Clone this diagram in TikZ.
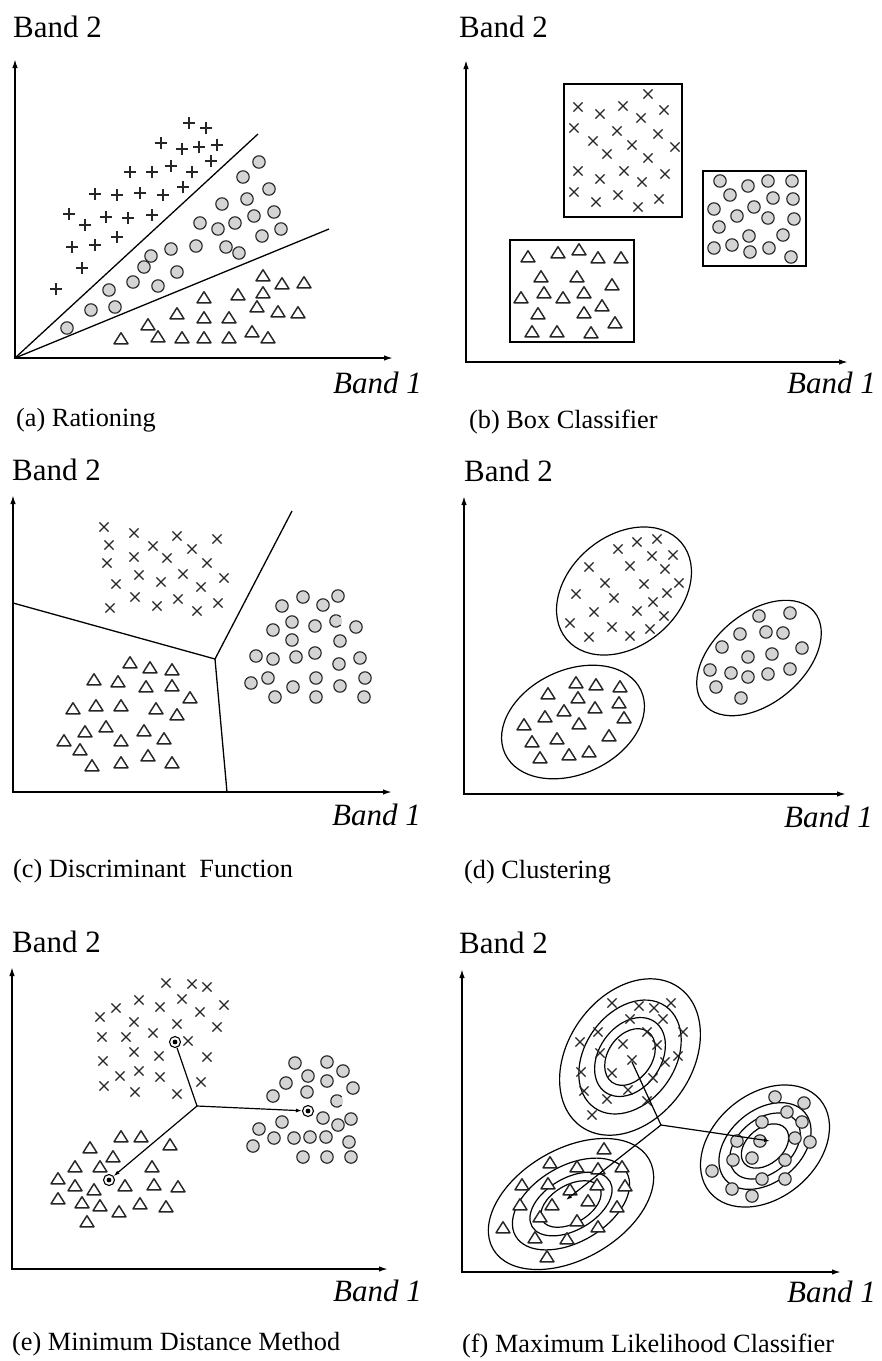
\documentclass[tikz,border=0pt]{standalone}
\usepackage{fontspec}
\setmainfont{Liberation Serif}
\usetikzlibrary{arrows.meta}
\begin{document}
\begin{tikzpicture}[x=1pt,y=-1pt,
  axis/.style={line width=1.6pt,{Latex[length=9pt,width=5.5pt]}-{Latex[length=9pt,width=5.5pt]}},
  conn/.style={line width=1.2pt},
  arr/.style={line width=1.2pt,-{Latex[length=6pt,width=4pt]}},
  bnd/.style={line width=1.3pt},
  ell/.style={line width=1.2pt},
  boxline/.style={line width=1.5pt},
  lbl/.style={font=\fontsize{31}{35}\selectfont, inner sep=0pt, anchor=base west},
  lblr/.style={font=\fontsize{31}{35}\selectfont\itshape, inner sep=0pt, anchor=base east},
  captxt/.style={font=\fontsize{26.3}{30}\selectfont, inner sep=0pt, anchor=base west},
  mk/.style={line width=1.15pt, black!85},
  ctr/.style={circle, draw, line width=1.1pt, minimum size=11pt, inner sep=0pt, fill=white},
  dot/.style={fill=black},
  pics/xm/.style={code={\draw[mk] (-4.6pt,-4.6pt)--(4.6pt,4.6pt) (-4.6pt,4.6pt)--(4.6pt,-4.6pt);}},
  pics/pm/.style={code={\draw[mk] (-6pt,0pt)--(6pt,0pt) (0pt,-6pt)--(0pt,6pt);}},
  pics/om/.style={code={\draw[mk, fill=black!17] (0,0) circle (6.2pt);}},
  pics/cm/.style={code={\fill[black!17] (0,0) circle (6.2pt); \draw[mk] (40:6.2pt) arc (40:320:6.2pt);}},
  pics/tm/.style={code={\draw[mk, line width=1.45pt, fill=white, line join=round] (-7pt,-4.8pt)--(7pt,-4.8pt)--(0pt,6.3pt)--cycle;}},
]
\useasboundingbox[fill=white] (0,0) rectangle (882,1361);

% ================= (a) Rationing =================
\coordinate (aO) at (15,358); \coordinate (aY) at (15,59); \coordinate (aX) at (393,358);
\draw[axis] (aY) -- (aO) -- (aX);
\coordinate (aL1) at (258,134); \coordinate (aL2) at (329,229);
\draw[bnd] (aO) -- (aL1);
\draw[bnd] (aO) -- (aL2);
\foreach \x/\y in {189/123, 206/128, 161/143, 182/149, 199/147, 217/145, 211/161, 130/172, 152/172, 171/166, 192/172, 183/187, 95/194, 117/195, 140/193, 163/195, 69/214, 85/225, 106/217, 128/218, 152/215, 117/237, 72/247, 95/245, 82/268, 56/289}
  \pic at (\x,\y) {pm};
\foreach \x/\y in {259/162, 243/177, 269/189, 247/199, 222/204, 274/212, 254/216, 200/223, 235/223, 218/229, 281/229, 262/236, 196/246, 226/247, 239/253, 171/249, 151/256, 144/267, 177/272, 133/282, 158/286, 109/290, 115/307, 91/310, 67/328}
  \pic at (\x,\y) {om};
\foreach \x/\y in {263/276, 282/284, 304/283, 204/298, 238/295, 263/293, 257/307, 278/312, 298/313, 177/314, 204/318, 229/318, 148/325, 121/339, 158/337, 182/338, 204/338, 229/338, 252/332, 268/338}
  \pic at (\x,\y) {tm};
\node[lbl] (aB2) at (13,37) {Band 2};
\node[lblr] (aB1) at (422,393) {Band 1};
\node[captxt] (aC) at (16,426) {(a) Rationing};

% ================= (b) Box Classifier =================
\coordinate (bO) at (466,362); \coordinate (bY) at (466,60); \coordinate (bX) at (848,362);
\draw[axis] (bY) -- (bO) -- (bX);
\draw[boxline] (564,84) rectangle (682,217);
\draw[boxline] (703,171) rectangle (806,266);
\draw[boxline] (510,240) rectangle (634,342);
\foreach \x/\y in {648/94, 578/107, 600/114, 623/106, 664/110, 641/118, 574/128, 617/131, 658/134, 593/141, 632/145, 675/147, 607/154, 648/158, 578/171, 624/171, 600/179, 665/174, 642/182, 574/192, 618/195, 596/202, 638/207, 659/199}
  \pic at (\x,\y) {xm};
\foreach \x/\y in {720/181, 748/186, 768/181, 792/181, 730/195, 773/198, 793/199, 714/209, 754/207, 737/216, 768/218, 794/219, 719/227, 749/236, 783/235, 714/248, 732/245, 750/252, 769/248, 791/257}
  \pic at (\x,\y) {om};
\foreach \x/\y in {528/257, 558/253, 579/250, 598/258, 621/258, 541/277, 577/277, 612/285, 521/298, 544/293, 563/298, 584/293, 602/306, 538/314, 584/313, 615/323, 532/332, 557/332, 591/333}
  \pic at (\x,\y) {tm};
\node[lbl] (bB2) at (459,37) {Band 2};
\node[lblr] (bB1) at (876,393) {Band 1};
\node[captxt] (bC) at (469,428) {(b) Box Classifier};

% ================= (c) Discriminant Function =================
\coordinate (cO) at (13,792); \coordinate (cY) at (13,495); \coordinate (cX) at (392,792);
\draw[axis] (cY) -- (cO) -- (cX);
\coordinate (cL) at (13,603); \coordinate (cJ) at (215,659); \coordinate (cT) at (292,511); \coordinate (cB) at (227,792);
\draw[bnd] (cL) -- (cJ) -- (cT);
\draw[bnd] (cJ) -- (cB);
\foreach \x/\y in {104/527, 134/533, 177/536, 217/539, 109/545, 153/546, 192/549, 107/563, 134/557, 167/558, 207/563, 116/584, 139/575, 161/582, 183/574, 201/587, 224/578, 110/608, 135/597, 157/606, 178/599, 197/611, 218/603}
  \pic at (\x,\y) {xm};
\foreach \x/\y in {303/597, 338/596, 282/606, 323/605, 292/622, 315/626, 356/627, 273/630, 292/640, 340/641, 256/656, 273/659, 296/657, 315/653, 339/664, 360/658, 251/683, 268/678, 293/687, 316/678, 340/686, 365/678, 275/697, 316/697, 364/697}
  \pic at (\x,\y) {om};
\pic at (336,621) {cm};
\foreach \x/\y in {130/663, 150/668, 172/670, 94/680, 118/682, 146/687, 172/686, 190/698, 73/709, 96/706, 121/706, 156/709, 177/715, 85/732, 106/727, 144/731, 64/741, 121/741, 164/739, 80/750, 148/756, 92/766, 121/763, 172/763}
  \pic at (\x,\y) {tm};
\node[lbl] (cB2) at (12,480) {Band 2};
\node[lblr] (cB1) at (421,825) {Band 1};
\node[captxt] (cC) at (13,877) {(c) Discriminant\ \ Function};

% ================= (d) Clustering =================
\coordinate (dO) at (464,794); \coordinate (dY) at (464,496); \coordinate (dX) at (846,794);
\draw[axis] (dY) -- (dO) -- (dX);
\coordinate (dXc) at (624,591); \coordinate (dTc) at (573,722); \coordinate (dOc) at (759,658);
\draw[ell, rotate around={40:(dXc)}] (dXc) ellipse [x radius=75pt, y radius=55pt];
\draw[ell, rotate around={25:(dTc)}] (dTc) ellipse [x radius=75pt, y radius=52pt];
\draw[ell, rotate around={40:(dOc)}] (dOc) ellipse [x radius=72pt, y radius=45pt];
\foreach \x/\y in {618/549, 637/542, 657/539, 652/556, 673/555, 589/567, 630/566, 665/569, 605/583, 644/584, 679/583, 576/594, 614/598, 653/602, 667/593, 594/612, 637/611, 664/616, 570/623, 612/627, 589/637, 630/636, 650/629}
  \pic at (\x,\y) {xm};
\foreach \x/\y in {759/616, 790/613, 740/634, 766/632, 783/633, 722/647, 748/657, 772/654, 802/648, 710/670, 731/673, 748/677, 768/674, 790/669, 716/687, 741/698}
  \pic at (\x,\y) {om};
\foreach \x/\y in {576/683, 596/685, 620/687, 548/694, 578/698, 619/703, 564/711, 595/708, 545/717, 624/718, 524/725, 579/724, 557/739, 609/736, 532/742, 540/758, 569/755, 589/752}
  \pic at (\x,\y) {tm};
\node[lbl] (dB2) at (464,481) {Band 2};
\node[lblr] (dB1) at (873,827) {Band 1};
\node[captxt] (dC) at (464,878) {(d) Clustering};

% ================= (e) Minimum Distance Method =================
\coordinate (eO) at (12,1269); \coordinate (eY) at (12,967); \coordinate (eX) at (388,1269);
\draw[axis] (eY) -- (eO) -- (eX);
\foreach \x/\y in {166/983, 192/984, 207/987, 139/1000, 182/999, 116/1008, 160/1007, 200/1012, 224/1005, 100/1017, 134/1022, 177/1024, 217/1027, 102/1037, 126/1037, 153/1033, 188/1041, 134/1052, 159/1056, 207/1057, 103/1061, 120/1076, 139/1071, 160/1077, 201/1082, 104/1086, 135/1092, 177/1094}
  \pic at (\x,\y) {xm};
\foreach \x/\y in {295/1063, 327/1062, 343/1071, 308/1076, 327/1081, 286/1083, 353/1088, 307/1092, 273/1096, 323/1118, 351/1119, 282/1122, 338/1125, 259/1129, 274/1138, 294/1138, 310/1137, 326/1137, 349/1142, 253/1146, 303/1157, 327/1157, 351/1157}
  \pic at (\x,\y) {om};
\pic at (337,1101) {cm};
\foreach \x/\y in {121/1137, 141/1137, 90/1148, 170/1145, 113/1157, 75/1167, 100/1167, 152/1167, 58/1179, 75/1186, 94/1190, 125/1186, 154/1185, 178/1187, 58/1199, 82/1203, 100/1206, 119/1212, 140/1204, 166/1207, 87/1222}
  \pic at (\x,\y) {tm};
\coordinate (eJ) at (197,1106);
\node[ctr] (eXc) at (175,1042) {};
\node[ctr] (eOc) at (308,1111) {};
\node[ctr] (eTc) at (109,1180) {};
\fill[dot] (eXc.center) circle (2.4pt);
\fill[dot] (eOc.center) circle (2.4pt);
\fill[dot] (eTc.center) circle (2.4pt);
\draw[conn] (eJ) -- (eXc);
\draw[arr] (eJ) -- (eOc);
\draw[arr] (eJ) -- (eTc);
\node[lbl] (eB2) at (12,952) {Band 2};
\node[lblr] (eB1) at (422,1301) {Band 1};
\node[captxt] (eC) at (12,1350) {(e) Minimum Distance Method};

% ================= (f) Maximum Likelihood Classifier =================
\coordinate (fO) at (462,1272); \coordinate (fY) at (462,969); \coordinate (fX) at (841,1272);
\draw[axis] (fY) -- (fO) -- (fX);
\coordinate (fXc) at (630,1057); \coordinate (fTc) at (571,1204); \coordinate (fOc) at (765,1146);
\foreach \a/\b in {85/62, 62/45, 43/31, 31/22}
  \draw[ell, rotate around={55:(fXc)}] (fXc) ellipse [x radius=\a pt, y radius=\b pt];
\foreach \a/\b in {90/55, 64/38, 45/26, 33/19}
  \draw[ell, rotate around={30:(fTc)}] (fTc) ellipse [x radius=\a pt, y radius=\b pt];
\foreach \a/\b in {72/52, 52/36, 40/27, 27/18}
  \draw[ell, rotate around={40:(fOc)}] (fOc) ellipse [x radius=\a pt, y radius=\b pt];
\foreach \x/\y in {612/1003, 639/1006, 654/1008, 671/1003, 630/1019, 663/1019, 683/1032, 580/1042, 598/1032, 623/1044, 647/1032, 657/1045, 678/1056, 665/1062, 600/1053, 632/1060, 612/1073, 581/1072, 653/1078, 628/1090, 584/1091, 607/1099, 647/1101, 592/1115}
  \pic at (\x,\y) {xm};
\foreach \x/\y in {775/1097, 804/1103, 787/1112, 802/1122, 762/1122, 795/1138, 810/1142, 737/1141, 760/1141, 733/1160, 752/1158, 785/1160, 712/1171, 762/1179, 785/1179, 732/1189, 752/1196}
  \pic at (\x,\y) {om};
\foreach \x/\y in {604/1149, 550/1163, 577/1167, 598/1169, 622/1167, 522/1185, 548/1184, 597/1185, 625/1186, 570/1190, 520/1205, 552/1205, 588/1201, 617/1207, 540/1217, 577/1221, 598/1227, 503/1228, 535/1238, 567/1239, 547/1257}
  \pic at (\x,\y) {tm};
\coordinate (fJ) at (661,1125);
\coordinate (fXe) at (632,1062);
\coordinate (fOe) at (770,1141);
\coordinate (fTe) at (566,1200);
\draw[conn] (fJ) -- (fXe);
\draw[arr] (fJ) -- (fOe);
\draw[arr] (fJ) -- (fTe);
\node[lbl] (fB2) at (459,953) {Band 2};
\node[lblr] (fB1) at (876,1302) {Band 1};
\node[captxt] (fC) at (462,1352) {(f) Maximum Likelihood Classifier};
\end{tikzpicture}
\end{document}
